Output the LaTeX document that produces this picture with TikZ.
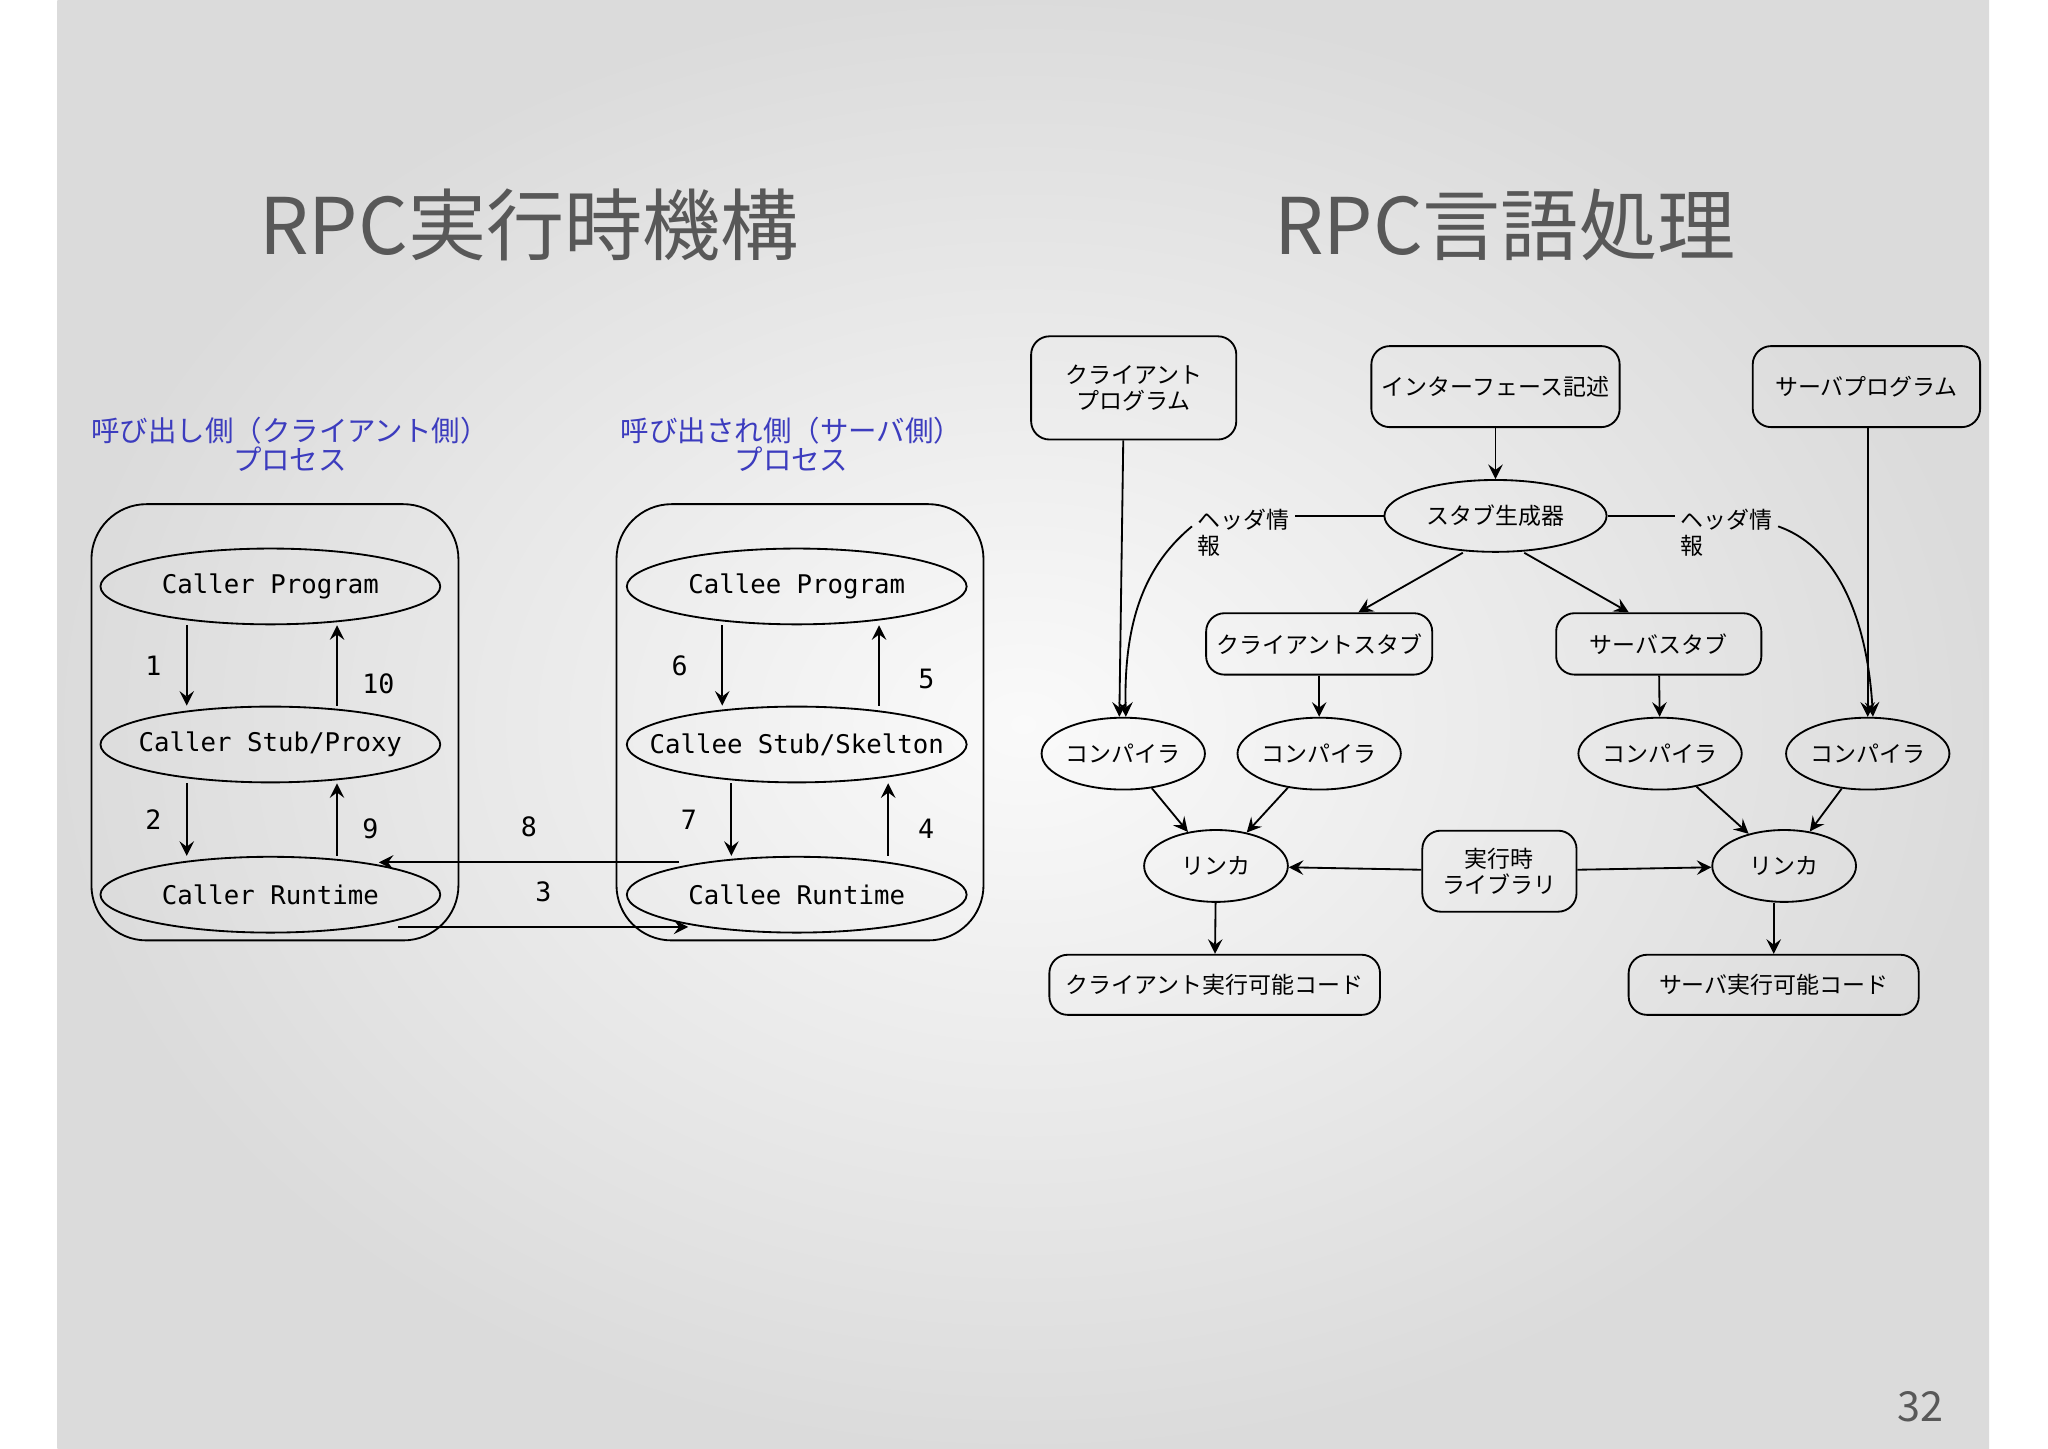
\documentclass[tikz,border=0pt]{standalone}
\usepackage{fontspec}
\setmainfont{Noto Sans CJK JP}
\newfontfamily\cjk{Noto Sans CJK JP}
\newfontfamily\monofont{DejaVu Sans Mono}
\usetikzlibrary{shapes.geometric,positioning,calc}
\definecolor{slidegray}{RGB}{88,88,88}
\definecolor{procblue}{RGB}{60,60,190}
\newcommand\zerow[1]{\makebox[0pt]{#1}}

\tikzset{
  box/.style={draw, rounded corners=4pt, align=center, inner sep=1pt, font=\fontsize{5}{5.6}\selectfont},
  oval/.style={draw, ellipse, inner sep=0pt, minimum width=2.6cm, minimum height=0.58cm, font=\monofont\fontsize{5.6}{6}\selectfont},
  pill/.style={draw, ellipse, inner sep=0pt, minimum width=1.25cm, minimum height=0.55cm, font=\fontsize{5}{5.5}\selectfont},
  num/.style={font=\monofont\fontsize{5.8}{6}\selectfont},
  title/.style={text=slidegray, font=\fontsize{17}{19}\selectfont},
  proc/.style={text=procblue, align=center, font=\fontsize{6.2}{6.2}\selectfont},
}

\begin{document}
\begin{tikzpicture}[x=0.01cm,y=-0.01cm,>=stealth,thin]
  \useasboundingbox (0,0) rectangle (1568,1109);
  \shade[inner color=gray!4, outer color=gray!28] (44,0) rectangle (1523,1109);

  % left: runtime
  \node[title] (t_run) at (405,172) {RPC実行時機構};
  \node[proc] (p_caller) at (222,340) {呼び出し側（クライアント側）\\プロセス};
  \node[proc] (p_callee) at (606,340) {呼び出され側（サーバ側）\\プロセス};
  \draw[rounded corners=12pt] (70,386) rectangle (351,720);
  \draw[rounded corners=12pt] (472,386) rectangle (753,720);

  \node[oval] (cr_prog) at (207,449) {\zerow{Caller Program}};
  \node[oval] (cr_stub) at (207,570) {\zerow{Caller Stub/Proxy}};
  \node[oval] (cr_rt)   at (207,685) {\zerow{Caller Runtime}};
  \node[oval] (ce_prog) at (610,449) {\zerow{Callee Program}};
  \node[oval] (ce_stub) at (610,570) {\zerow{Callee Stub/Skelton}};
  \node[oval] (ce_rt)   at (610,685) {\zerow{Callee Runtime}};

  \draw[->] ([xshift=-0.64cm]cr_prog.south) -- ([xshift=-0.64cm]cr_stub.north) node[num,midway,left=2pt] {1};
  \draw[->] ([xshift=0.51cm]cr_stub.north) -- ([xshift=0.51cm]cr_prog.south) node[num,midway,right=2pt,yshift=-4pt] {10};
  \draw[->] ([xshift=-0.64cm]cr_stub.south) -- ([xshift=-0.64cm]cr_rt.north) node[num,midway,left=2pt] {2};
  \draw[->] ([xshift=0.51cm]cr_rt.north) -- ([xshift=0.51cm]cr_stub.south) node[num,midway,right=2pt,yshift=-2pt] {9};
  \draw[->] ([xshift=-0.57cm]ce_prog.south) -- ([xshift=-0.57cm]ce_stub.north) node[num,midway,left=4pt] {6};
  \draw[->] ([xshift=0.63cm]ce_stub.north) -- ([xshift=0.63cm]ce_prog.south) node[num,midway,right=5pt,yshift=-3pt] {5};
  \draw[->] ([xshift=-0.5cm]ce_stub.south) -- ([xshift=-0.5cm]ce_rt.north) node[num,midway,left=4pt] {7};
  \draw[->] ([xshift=0.7cm]ce_rt.north) -- ([xshift=0.7cm]ce_stub.south) node[num,midway,right=3pt,yshift=-2pt] {4};
  \draw[->] ([xshift=-0.9cm,yshift=-0.05cm]ce_rt.north) -- node[num,above=2pt] {8} ([xshift=0.83cm,yshift=-0.05cm]cr_rt.north);
  \draw[->] ([xshift=0.98cm,yshift=0.05cm]cr_rt.south) -- node[num,above=2pt] {3} ([xshift=-0.83cm,yshift=0.05cm]ce_rt.south);

  % right: language processing
  \node[title] (t_lang) at (1152,172) {RPC言語処理};
  \node[box, minimum width=1.57cm, minimum height=0.79cm] (cl_prog) at (868,297) {クライアント\\プログラム};
  \node[box, minimum width=1.9cm, minimum height=0.62cm] (idl) at (1145,296) {インターフェース記述};
  \node[box, minimum width=1.74cm, minimum height=0.62cm] (sv_prog) at (1429,296) {サーバプログラム};
  \node[pill, minimum width=1.7cm] (gen) at (1145,395) {\zerow{スタブ生成器}};
  \node[box, draw=none, align=left] (hd_l) at (952,408) {ヘッダ情\\報};
  \node[box, draw=none, align=left] (hd_r) at (1322,408) {ヘッダ情\\報};
  \node[box, minimum width=1.73cm, minimum height=0.47cm] (cl_stub) at (1010,493) {クライアントスタブ};
  \node[box, minimum width=1.57cm, minimum height=0.47cm] (sv_stub) at (1270,493) {サーバスタブ};
  \node[pill] (cc1) at (860,577) {\zerow{コンパイラ}};
  \node[pill] (cc2) at (1010,577) {\zerow{コンパイラ}};
  \node[pill] (cc3) at (1271,577) {\zerow{コンパイラ}};
  \node[pill] (cc4) at (1430,577) {\zerow{コンパイラ}};
  \node[pill, minimum width=1.1cm] (ln1) at (931,663) {\zerow{リンカ}};
  \node[pill, minimum width=1.1cm] (ln2) at (1366,663) {\zerow{リンカ}};
  \node[box, minimum width=1.18cm, minimum height=0.62cm] (rtlib) at (1148,667) {実行時\\ライブラリ};
  \node[box, minimum width=2.53cm, minimum height=0.46cm] (cl_exe) at (930,754) {クライアント実行可能コード};
  \node[box, minimum width=2.22cm, minimum height=0.46cm] (sv_exe) at (1358,754) {サーバ実行可能コード};

  \draw[->] (cl_prog.south -| cc1.north) -- ([xshift=-0.03cm]cc1.north);
  \draw[->] (idl) -- (gen);
  \draw[->] (sv_prog.south -| cc4.north) -- (cc4.north);
  \draw (gen.west) -- (hd_l.east |- gen.west);
  \draw (gen.east) -- (hd_r.west |- gen.east);
  \draw[->] ([yshift=0.05cm]hd_l.west) .. controls (880,430) and (860,470) .. ([xshift=0.02cm]cc1.north);
  \draw[->] ([yshift=0.05cm]hd_r.east) .. controls (1410,420) and (1430,480) .. ([xshift=0.04cm]cc4.north);
  \draw[->] ([xshift=-0.25cm]gen.south) -- ([xshift=0.3cm]cl_stub.north);
  \draw[->] ([xshift=0.22cm]gen.south) -- ([xshift=-0.23cm]sv_stub.north);
  \draw[->] (cl_stub) -- (cc2);
  \draw[->] (sv_stub) -- (cc3);
  \draw[->] (cc1) -- (ln1);
  \draw[->] (cc2) -- (ln1);
  \draw[->] (cc3) -- (ln2);
  \draw[->] (cc4) -- (ln2);
  \draw[->] (rtlib) -- (ln1);
  \draw[->] (rtlib) -- (ln2);
  \draw[->] (ln1) -- (cl_exe);
  \draw[->] (ln2.south -| sv_exe.north) -- (sv_exe);

  \node[text=slidegray, font=\fontsize{9}{9}\selectfont] (pg) at (1470,1077) {32};
\end{tikzpicture}
\end{document}
